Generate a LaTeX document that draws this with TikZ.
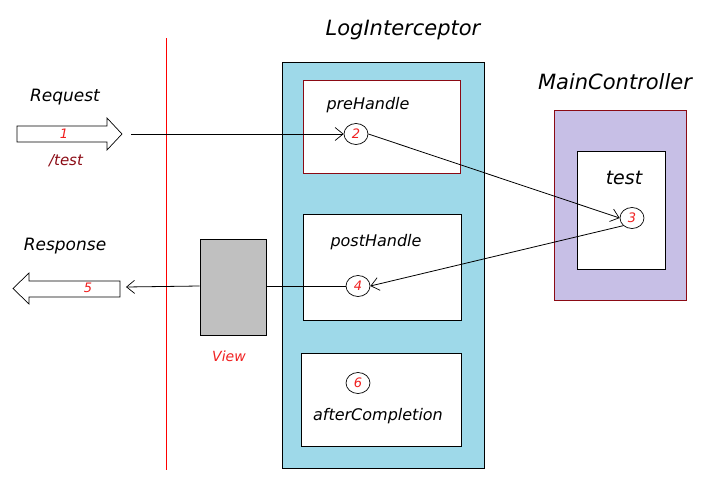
\documentclass[tikz,border=0pt]{standalone}
\usepackage{fontspec}
\setmainfont{DejaVu Sans}
\usetikzlibrary{arrows.meta,shapes.geometric}
\definecolor{lblue}{HTML}{9ED9E9}
\definecolor{lav}{HTML}{C7BFE6}
\definecolor{dred}{HTML}{8B0A14}
\definecolor{vgray}{HTML}{C0C0C0}
\definecolor{numred}{HTML}{F02020}
\tikzset{
  x=1pt, y=-1pt,
  lbl/.style={font=\itshape\fontsize{16}{19}\selectfont, text=black, inner sep=0pt},
  title/.style={font=\itshape\fontsize{21}{25}\selectfont, text=black, inner sep=0pt},
  num/.style={font=\itshape\fontsize{13}{15}\selectfont, text=numred, inner sep=0pt},
  stepcirc/.style={draw=black, ellipse, minimum width=24pt, minimum height=21pt, inner sep=0pt, font=\itshape\fontsize{13}{15}\selectfont, text=numred, line width=0.7pt},
  conn/.style={draw=black, line width=0.8pt},
  arr/.style={conn, -{Straight Barb[length=8pt,width=13pt,line width=0.7pt]}},
}
\begin{document}
\begin{tikzpicture}
\useasboundingbox (0,0) rectangle (724,482);
% red separator
\draw[red, line width=0.9pt] (166,38) -- (166,470);
% LogInterceptor
\node[title] (tLog) at (403,30) {LogInterceptor};
\node[draw=black, fill=lblue, line width=0.8pt, minimum width=202pt, minimum height=406pt, inner sep=0pt] (log) at (383,265) {};
\node[draw=dred, fill=white, line width=0.8pt, minimum width=157pt, minimum height=93pt, inner sep=0pt] (pre) at (381.5,126.5) {};
\node[draw=black, fill=white, line width=0.8pt, minimum width=158pt, minimum height=106pt, inner sep=0pt] (post) at (382,267) {};
\node[draw=black, fill=white, line width=0.8pt, minimum width=160pt, minimum height=93pt, inner sep=0pt] (after) at (381,399.5) {};
\node[lbl] (tPre) at (368,105) {preHandle};
\node[lbl] (tPost) at (376,242) {postHandle};
\node[lbl] (tAfter) at (378,416) {afterCompletion};
\node[stepcirc] (c2) at (356,134) {2};
\node[stepcirc] (c4) at (358,286) {4};
\node[stepcirc] (c6) at (358,383) {6};
% MainController
\node[title] (tMain) at (615,82) {MainController};
\node[draw=dred, fill=lav, line width=0.8pt, minimum width=132pt, minimum height=190pt, inner sep=0pt] (main) at (620,205) {};
\node[draw=black, fill=white, line width=0.8pt, minimum width=88pt, minimum height=118pt, inner sep=0pt] (testbox) at (621,210) {};
\node[lbl, font=\itshape\fontsize{19}{22}\selectfont] (tTest) at (624,178) {test};
\node[stepcirc] (c3) at (632,218) {3};
% View
\node[draw=black, fill=vgray, line width=0.8pt, minimum width=66pt, minimum height=96pt, inner sep=0pt] (view) at (233,287) {};
\node[num, font=\itshape\fontsize{14}{16}\selectfont] (tView) at (229,356) {View};
% Request block arrow
\node[lbl, font=\itshape\fontsize{17}{20}\selectfont] (tReq) at (65,97) {Request};
\draw[black, fill=white, line width=0.7pt] (17,126) -- (107,126) -- (107,118) -- (122,134) -- (107,150) -- (107,142) -- (17,142) -- cycle;
\node[num] (n1) at (64,134) {1};
\node[num, text=dred, font=\itshape\fontsize{15}{17}\selectfont] (tTestUrl) at (66,161) {/test};
\coordinate (reqStart) at (131,134);
% Response block arrow
\node[lbl, font=\itshape\fontsize{17}{20}\selectfont] (tResp) at (65,246) {Response};
\draw[black, fill=white, line width=0.7pt] (120,281) -- (29,281) -- (29,273) -- (13,288.5) -- (29,304) -- (29,297) -- (120,297) -- cycle;
\node[num] (n5) at (88,288) {5};
\coordinate (respEnd) at (126,287);
% connectors
\draw[arr] (reqStart) -- (c2.west);
\draw[arr] (c2.east) -- (c3.west);
\draw[arr] (c3.south west) -- (c4.east);
\draw[conn] (c4.west) -- (view.east |- c4.west);
\draw[arr] (view.west |- c4.west) -- (respEnd);
\end{tikzpicture}
\end{document}
